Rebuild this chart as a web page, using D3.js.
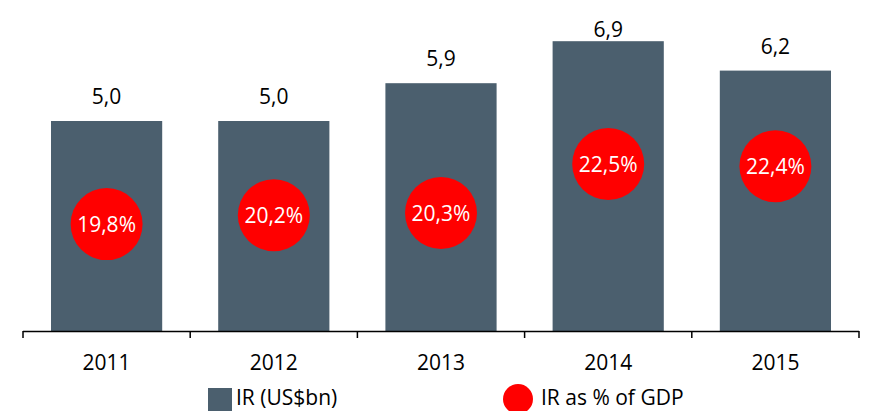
<!DOCTYPE html>
<html>
<head>
<meta charset="utf-8">
<script src="https://cdn.jsdelivr.net/npm/d3@7"></script>
<style>
  body { margin: 0; background: #fff; }
  svg { display: block; font-family: "Open Sans", sans-serif; }
</style>
</head>
<body>
<script>
var width = 872;
var height = 411;

// data
var years = ["2011", "2012", "2013", "2014", "2015"];
var irValues = [5.0, 5.0, 5.9, 6.9, 6.2];          // IR (US$bn)
var irGdp = [19.8, 20.2, 20.3, 22.5, 22.4];         // IR as % of GDP
var legendLabels = ["IR (US$bn)", "IR as % of GDP"];

var barColour = "#4b5f6e";
var dotColour = "#ff0000";
var fontSize = 21;

var fmt = function (v, d) { return v.toFixed(d).replace(".", ","); };

var svg = d3.select("body").append("svg")
  .attr("width", width)
  .attr("height", height);

var x = d3.scaleBand()
  .domain(years)
  .range([23, 859])
  .paddingInner(0.335)
  .paddingOuter(0.335 / 2);

var y = d3.scaleLinear().domain([0, 8]).range([331, -5]);
var y2 = d3.scaleLinear().domain([15, 30]).range([331, -3]);

// bars
svg.selectAll(".bar")
  .data(irValues)
  .enter().append("rect")
  .attr("class", "bar")
  .attr("x", (d, i) => x(years[i]))
  .attr("width", x.bandwidth())
  .attr("y", d => y(d))
  .attr("height", d => y(0) - y(d))
  .attr("fill", barColour);

// bar value labels (clamped at top of plot)
svg.selectAll(".barlabel")
  .data(irValues)
  .enter().append("text")
  .attr("x", (d, i) => x(years[i]) + x.bandwidth() / 2)
  .attr("y", d => Math.max(y(d) - 17, 37))
  .attr("text-anchor", "middle")
  .attr("font-size", fontSize)
  .attr("fill", "#000")
  .text(d => fmt(d, 1));

// % of GDP dots
svg.selectAll(".dot")
  .data(irGdp)
  .enter().append("circle")
  .attr("cx", (d, i) => x(years[i]) + x.bandwidth() / 2)
  .attr("cy", d => y2(d))
  .attr("r", 36)
  .attr("fill", dotColour);

svg.selectAll(".dotlabel")
  .data(irGdp)
  .enter().append("text")
  .attr("x", (d, i) => x(years[i]) + x.bandwidth() / 2)
  .attr("y", d => y2(d))
  .attr("dy", "0.36em")
  .attr("text-anchor", "middle")
  .attr("font-size", fontSize)
  .attr("fill", "#fff")
  .text(d => fmt(d, 1) + "%");

// category axis with ticks at the band boundaries
var axisG = svg.append("g");
axisG.append("line")
  .attr("x1", 23).attr("x2", 859)
  .attr("y1", 331.5).attr("y2", 331.5)
  .attr("stroke", "#000").attr("stroke-width", 1.5);

var step = x.step();
var bounds = d3.range(years.length + 1).map(i => 23 + i * step);
axisG.selectAll(".tick")
  .data(bounds)
  .enter().append("line")
  .attr("x1", d => d).attr("x2", d => d)
  .attr("y1", 331).attr("y2", 338)
  .attr("stroke", "#000").attr("stroke-width", 1.5);

axisG.selectAll(".yearlabel")
  .data(years)
  .enter().append("text")
  .attr("x", d => x(d) + x.bandwidth() / 2)
  .attr("y", 370)
  .attr("text-anchor", "middle")
  .attr("font-size", fontSize)
  .attr("fill", "#000")
  .text(d => d);

// legend
var leg = svg.append("g");
leg.append("rect")
  .attr("x", 208).attr("y", 388)
  .attr("width", 24).attr("height", 23)
  .attr("fill", barColour);
leg.append("text")
  .attr("x", 236).attr("y", 405)
  .attr("font-size", fontSize)
  .text(legendLabels[0]);

leg.append("circle")
  .attr("cx", 518).attr("cy", 399)
  .attr("r", 15)
  .attr("fill", dotColour);
leg.append("text")
  .attr("x", 541).attr("y", 405)
  .attr("font-size", fontSize)
  .text(legendLabels[1]);
</script>
</body>
</html>
